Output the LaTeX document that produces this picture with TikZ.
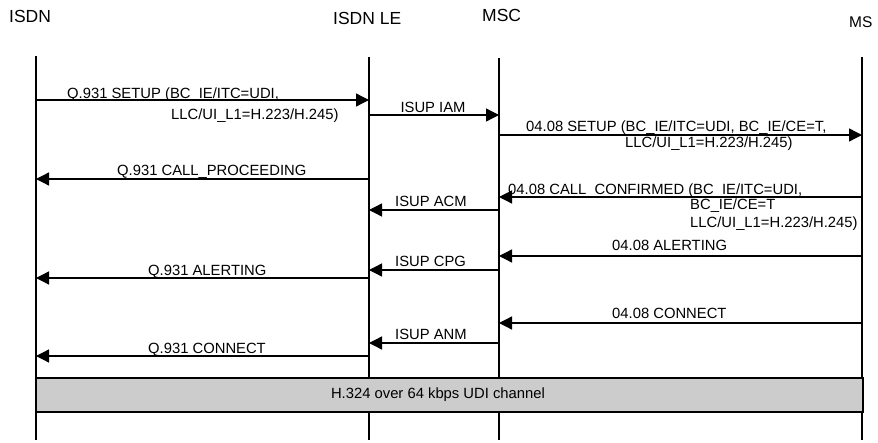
\documentclass[tikz,border=0pt]{standalone}
\usepackage{fontspec}
\setmainfont{Liberation Sans}
\usetikzlibrary{arrows.meta, positioning}
\definecolor{changray}{gray}{0.8}
\tikzstyle{entity} = [anchor=base west, inner sep=0pt, font=\fontsize{17.5}{20}\selectfont]
\tikzstyle{lbl} = [anchor=base west, inner sep=0pt, font=\fontsize{14.8}{17}\selectfont]
\tikzstyle{life} = [line width=1.2pt]
\tikzstyle{msg} = [line width=1.3pt, -{Triangle[length=13pt,width=13pt]}]
\tikzstyle{chan} = [draw, line width=1.3pt, fill=changray]

\begin{document}
\begin{tikzpicture}[x=1pt, y=-1pt]
    \useasboundingbox (0,0) rectangle (878,443);
    % entities
    \node [entity] (isdnname) at (9,23) {ISDN};
    \node [entity] (lename) at (333,25) {ISDN LE};
    \node [entity] (mscname) at (482,22) {MSC};
    \node [entity, font=\fontsize{15.5}{18}\selectfont] (msname) at (849,28) {MS};
    % lifelines
    \coordinate (isdn) at (36,56);
    \coordinate (le) at (369,57);
    \coordinate (msc) at (499,58);
    \coordinate (ms) at (862,57);
    \coordinate (bottom) at (0,440);
    \foreach \l in {isdn, le, msc, ms}
        \draw [life] (\l) -- (\l |- bottom);
    % message rows
    \coordinate (setup) at (0,100);
    \coordinate (iam) at (0,115);
    \coordinate (msetup) at (0,135);
    \coordinate (proc) at (0,179);
    \coordinate (conf) at (0,197);
    \coordinate (acm) at (0,210);
    \coordinate (malert) at (0,256);
    \coordinate (cpg) at (0,270);
    \coordinate (alert) at (0,278);
    \coordinate (mconn) at (0,323);
    \coordinate (anm) at (0,343);
    \coordinate (conn) at (0,356);
    \draw [msg] (isdn |- setup) -- (le |- setup);
    \draw [msg] (le |- iam) -- (msc |- iam);
    \draw [msg] (msc |- msetup) -- (ms |- msetup);
    \draw [msg] (le |- proc) -- (isdn |- proc);
    \draw [msg] (ms |- conf) -- (msc |- conf);
    \draw [msg] (msc |- acm) -- (le |- acm);
    \draw [msg] (ms |- malert) -- (msc |- malert);
    \draw [msg] (msc |- cpg) -- (le |- cpg);
    \draw [msg] (le |- alert) -- (isdn |- alert);
    \draw [msg] (ms |- mconn) -- (msc |- mconn);
    \draw [msg] (msc |- anm) -- (le |- anm);
    \draw [msg] (le |- conn) -- (isdn |- conn);
    % labels
    \node [lbl] (setup1) at (67,99) {Q.931 SETUP (BC\_IE/ITC=UDI,};
    \node [lbl] (setup2) at (171,120) {LLC/UI\_L1=H.223/H.245)};
    \node [lbl, anchor=base] (iamlbl) at (433,113) {ISUP IAM};
    \node [lbl] (msetup1) at (526,132) {04.08 SETUP (BC\_IE/ITC=UDI, BC\_IE/CE=T,};
    \node [lbl] (msetup2) at (625,148) {LLC/UI\_L1=H.223/H.245)};
    \node [lbl] (proclbl) at (117,176) {Q.931 CALL\_PROCEEDING};
    \node [lbl] (conf1) at (508,195) {04.08 CALL\_CONFIRMED (BC\_IE/ITC=UDI,};
    \node [lbl] (conf2) at (690,210) {BC\_IE/CE=T};
    \node [lbl] (conf3) at (690,228) {LLC/UI\_L1=H.223/H.245)};
    \node [lbl] (acmlbl) at (395,207) {ISUP ACM};
    \node [lbl] (malertlbl) at (612,251) {04.08 ALERTING};
    \node [lbl] (cpglbl) at (395,267) {ISUP CPG};
    \node [lbl] (alertlbl) at (148,276) {Q.931 ALERTING};
    \node [lbl] (mconnlbl) at (612,319) {04.08 CONNECT};
    \node [lbl] (anmlbl) at (395,340) {ISUP ANM};
    \node [lbl] (connlbl) at (148,354) {Q.931 CONNECT};
    % channel
    \coordinate (chtop) at (0,378);
    \coordinate (chbot) at (0,412);
    \draw [chan] (isdn |- chtop) rectangle (863,412);
    \node [lbl, anchor=center] (chanlbl) at (438,395) {H.324 over 64 kbps UDI channel};
\end{tikzpicture}
\end{document}
